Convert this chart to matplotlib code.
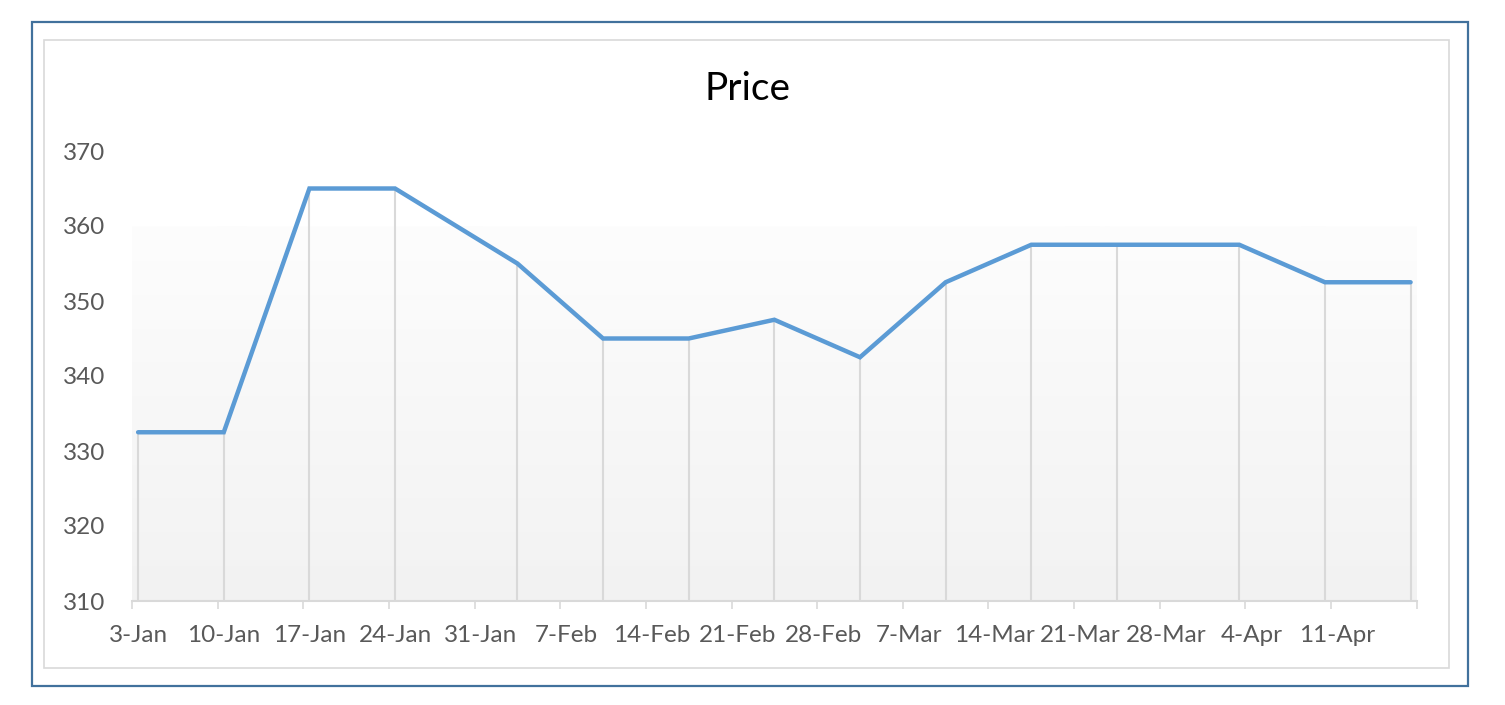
import numpy as np
import pandas as pd
import matplotlib
matplotlib.use("Agg")
import matplotlib.pyplot as plt
import matplotlib.dates as mdates
from matplotlib.patches import Rectangle

## DATA ##
dates = pd.to_datetime([
    "2022-01-03", "2022-01-10", "2022-01-17", "2022-01-24",
    "2022-02-03", "2022-02-10", "2022-02-17", "2022-02-24",
    "2022-03-03", "2022-03-10", "2022-03-17", "2022-03-24",
    "2022-04-03", "2022-04-10", "2022-04-17",
])
prices = [332.5, 332.5, 365, 365, 355, 345, 345, 347.5, 342.5,
          352.5, 357.5, 357.5, 357.5, 352.5, 352.5]

week_ticks = pd.date_range("2022-01-03", "2022-04-18", freq="7D")
y_ticks = [310, 320, 330, 340, 350, 360, 370]

LINE_COLOR = "#5b9bd5"
TEXT_COLOR = "#595959"
GRID_COLOR = "#d9d9d9"

plt.rcParams["font.family"] = ["Lato", "DejaVu Sans"]

fig = plt.figure(figsize=(15.05, 7.05), dpi=100)

# outer frame and chart-area border
fig.patches.append(Rectangle((32 / 1505, 1 - 686 / 705), 1436 / 1505, 664 / 705,
                             transform=fig.transFigure, fill=False,
                             edgecolor="#41719c", linewidth=1.6))
fig.patches.append(Rectangle((44 / 1505, 1 - 668 / 705), 1405 / 1505, 628 / 705,
                             transform=fig.transFigure, fill=False,
                             edgecolor=GRID_COLOR, linewidth=1.2))

ax = fig.add_axes([132 / 1505, 1 - 601 / 705, 1284.7 / 1505, 450 / 705])

# points sit in the middle of their day (Excel date axis)
x = mdates.date2num(dates) + 0.5
x0 = mdates.date2num(week_ticks[0])
x1 = mdates.date2num(week_ticks[-1])

# faint gradient backdrop
grad = np.linspace(0, 1, 256).reshape(-1, 1)
ax.imshow(grad, extent=[x0, x1, 310, 360], aspect="auto",
          cmap=matplotlib.colors.LinearSegmentedColormap.from_list(
              "g", ["#f2f2f2", "#fdfdfd"]),
          origin="lower", zorder=0)

ax.vlines(x, 310, prices, color=GRID_COLOR, linewidth=1.5, zorder=1)
ax.plot(x, prices, color=LINE_COLOR, linewidth=3.2, solid_joinstyle="miter",
        solid_capstyle="round", zorder=3)

ax.set_xlim(x0, x1)
ax.set_ylim(310, 370)

# tick marks at week boundaries, labels centred on the day
ax.set_xticks(mdates.date2num(week_ticks))
ax.set_xticklabels([])
ax.set_xticks(mdates.date2num(week_ticks[:-1]) + 0.5, minor=True)
ax.set_xticklabels([d.strftime("%-d-%b") for d in week_ticks[:-1]], minor=True)
ax.tick_params(axis="x", which="major", length=6, width=1.2, color=GRID_COLOR,
               direction="out")
ax.tick_params(axis="x", which="minor", length=0, pad=17, labelsize=17.5,
               labelcolor=TEXT_COLOR)

ax.set_yticks(y_ticks)
ax.tick_params(axis="y", length=0, pad=19, labelsize=17.5, labelcolor=TEXT_COLOR)

for side in ["left", "right", "top"]:
    ax.spines[side].set_visible(False)
ax.spines["bottom"].set_color(GRID_COLOR)
ax.spines["bottom"].set_linewidth(1.5)
ax.set_facecolor("none")

fig.text(747 / 1505, 1 - 89 / 705, "Price", ha="center", va="center",
         fontsize=28, color="black")

fig.savefig("out.png", dpi=100)
